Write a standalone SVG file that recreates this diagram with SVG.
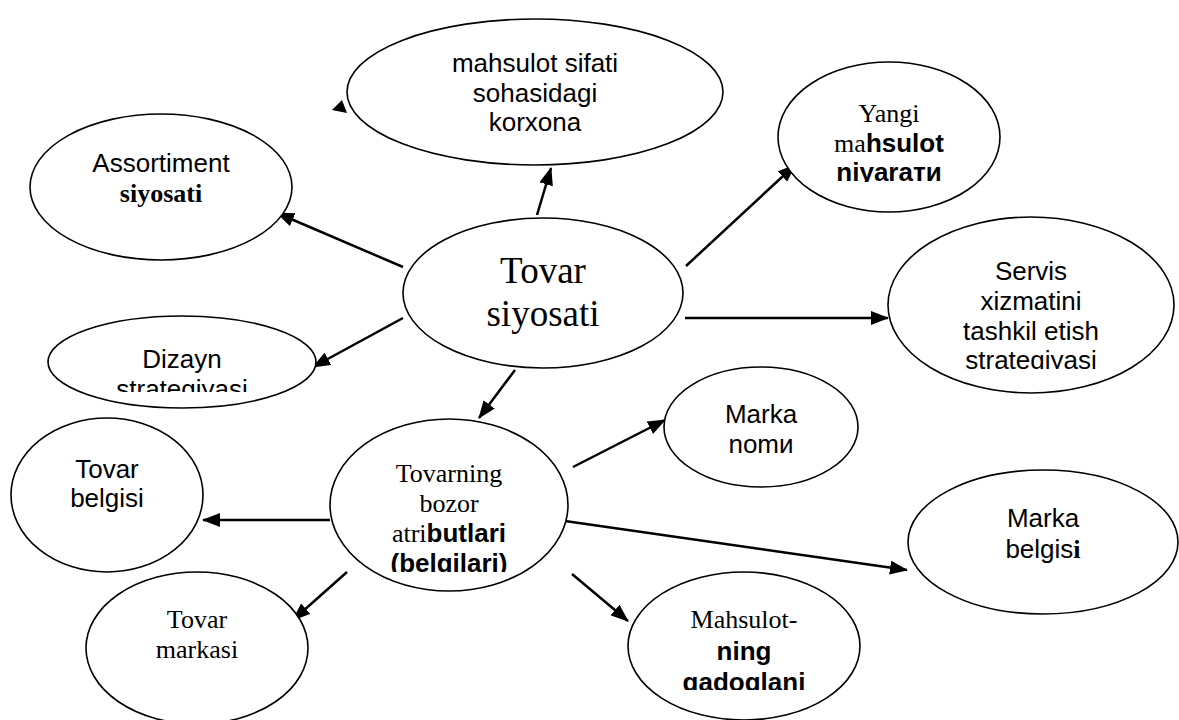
<svg xmlns="http://www.w3.org/2000/svg" width="1179" height="720" viewBox="0 0 1179 720">
<style>
.n ellipse{fill:#fff;stroke:#000;stroke-width:1.6}
.a{font-family:"Liberation Sans",Arial,sans-serif;font-size:26px;fill:#000;text-anchor:middle}
.t{font-family:"Liberation Serif","Times New Roman",serif;font-size:26px;fill:#000;text-anchor:middle}
.ab{font-family:"Liberation Sans",Arial,sans-serif;font-weight:bold}
.tb{font-family:"Liberation Serif","Times New Roman",serif;font-weight:bold}
.c line{stroke:#000;stroke-width:2.5;marker-end:url(#ah)}
</style>
<defs>
<marker id="ah" markerUnits="userSpaceOnUse" markerWidth="18" markerHeight="14" refX="17" refY="7" orient="auto">
<path d="M0,0 L18,7 L0,14 Z" fill="#000"/>
</marker>
<clipPath id="cpY"><rect x="778" y="60" width="222" height="122"/></clipPath>
<clipPath id="cpS"><rect x="888" y="210" width="290" height="159"/></clipPath>
<clipPath id="cpD"><rect x="40" y="310" width="290" height="82"/></clipPath>
<clipPath id="cpT"><rect x="330" y="415" width="240" height="157"/></clipPath>
<clipPath id="cpM"><rect x="628" y="570" width="235" height="120"/></clipPath>
</defs>

<g class="c" id="connectors">
<line x1="537" y1="215" x2="551" y2="168"/>
<line x1="403" y1="267" x2="277" y2="213"/>
<line x1="686" y1="266" x2="795" y2="165"/>
<line x1="685" y1="318" x2="888" y2="318"/>
<line x1="403" y1="318" x2="313" y2="367"/>
<line x1="515" y1="370" x2="479" y2="418"/>
<line x1="573" y1="467" x2="665" y2="420"/>
<line x1="330" y1="520" x2="203" y2="520"/>
<line x1="565" y1="521" x2="907" y2="570"/>
<line x1="347" y1="572" x2="293" y2="620"/>
<line x1="572" y1="574" x2="628" y2="621"/>
<polygon points="332,110 342,100 347,113" fill="#000"/>
</g>

<g class="n" id="n-sifat">
<ellipse cx="535" cy="92" rx="188" ry="73"/>
<text class="a" x="535" y="72">mahsulot sifati</text>
<text class="a" x="535" y="102">sohasidagi</text>
<text class="a" x="535" y="131">korxona</text>
</g>

<g class="n" id="n-assort">
<ellipse cx="161" cy="187" rx="131" ry="73"/>
<text class="a" x="161" y="172">Assortiment</text>
<text class="t tb" x="161" y="202">siyosati</text>
</g>

<g class="n" id="n-yangi">
<ellipse cx="889" cy="137" rx="111" ry="75"/>
<g clip-path="url(#cpY)">
<text class="t" x="889" y="122">Yangi</text>
<text class="t" x="889" y="152">ma<tspan class="ab">hsulot</tspan></text>
<text class="a ab" x="889" y="181">niyarати</text>
</g>
</g>

<g class="n" id="n-center">
<ellipse cx="543" cy="293" rx="140" ry="75"/>
<text class="t" x="543" y="283" style="font-size:37px">Tovar</text>
<text class="t" x="543" y="326" style="font-size:37px">siyosati</text>
</g>

<g class="n" id="n-servis">
<ellipse cx="1031" cy="305" rx="143" ry="88"/>
<g clip-path="url(#cpS)">
<text class="a" x="1031" y="280">Servis</text>
<text class="a" x="1031" y="310">xizmatini</text>
<text class="a" x="1031" y="340">tashkil etish</text>
<text class="a" x="1031" y="369">strategiyasi</text>
</g>
</g>

<g class="n" id="n-dizayn">
<ellipse cx="182" cy="362" rx="134" ry="46"/>
<g clip-path="url(#cpD)">
<text class="a" x="182" y="368">Dizayn</text>
<text class="a" x="182" y="398">strategiyasi</text>
</g>
</g>

<g class="n" id="n-marka-nomi">
<ellipse cx="761" cy="427" rx="97" ry="60"/>
<text class="a" x="761" y="423">Marka</text>
<text class="a" x="761" y="453">nomи</text>
</g>

<g class="n" id="n-tovar-belgisi">
<ellipse cx="107" cy="495" rx="96" ry="77"/>
<text class="a" x="107" y="478">Tovar</text>
<text class="a" x="107" y="507">belgisi</text>
</g>

<g class="n" id="n-atribut">
<ellipse cx="449" cy="505" rx="119" ry="86"/>
<g clip-path="url(#cpT)">
<text class="t" x="449" y="482">Tovarning</text>
<text class="t" x="449" y="512">bozor</text>
<text class="t" x="449" y="542">atri<tspan class="ab">butlari</tspan></text>
<text class="a ab" x="449" y="572">(belgilari)</text>
</g>
</g>

<g class="n" id="n-marka-belgisi">
<ellipse cx="1043" cy="542" rx="135" ry="72"/>
<text class="a" x="1043" y="527">Marka</text>
<text class="a" x="1043" y="558">belgis<tspan class="tb">i</tspan></text>
</g>

<g class="n" id="n-tovar-markasi">
<ellipse cx="197" cy="648" rx="111" ry="76"/>
<text class="t" x="197" y="628">Tovar</text>
<text class="t" x="197" y="658">markasi</text>
</g>

<g class="n" id="n-qadoq">
<ellipse cx="744" cy="646" rx="116" ry="74"/>
<g clip-path="url(#cpM)">
<text class="t" x="744" y="628">Mahsulot-</text>
<text class="a ab" x="744" y="660">ning</text>
<text class="a ab" x="744" y="691">qadoqlani</text>
</g>
</g>
</svg>
